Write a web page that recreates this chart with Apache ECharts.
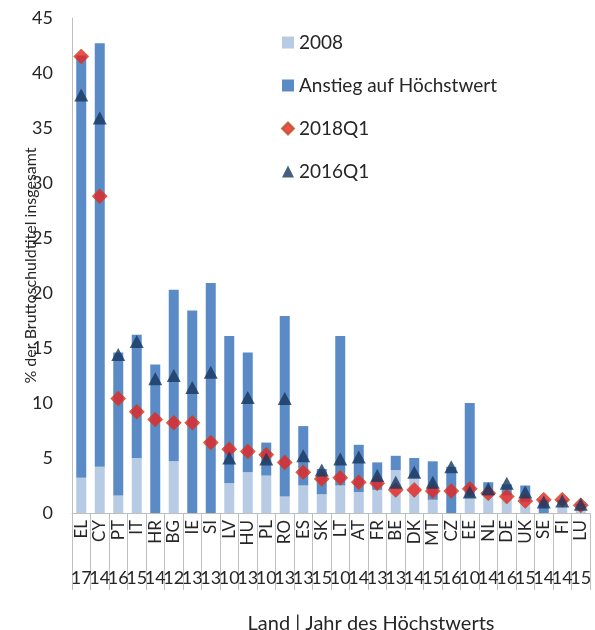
<!DOCTYPE html>
<html>
<head>
<meta charset="utf-8">
<script src="https://cdn.jsdelivr.net/npm/echarts@6/dist/echarts.min.js"></script>
<style>
html,body{margin:0;padding:0;background:#fff;}
#chart{width:595px;height:630px;}
</style>
</head>
<body>
<div id="chart"></div>
<script>
const countries = ['EL','CY','PT','IT','HR','BG','IE','SI','LV','HU','PL','RO','ES','SK','LT','AT','FR','BE','DK','MT','CZ','EE','NL','DE','UK','SE','FI','LU'];
const peakYears = ['17','14','16','15','14','12','13','13','10','13','10','13','13','15','10','14','13','13','14','15','16','10','14','16','15','14','14','15'];
const base2008 = [3.2,4.2,1.6,5.0,0,4.7,0,0,2.7,3.7,3.4,1.5,2.5,1.7,2.5,1.9,2.1,3.9,3.2,1.2,0,1.4,1.5,1.6,1.0,0,1.0,0.7];
const increaseToPeak = [38.4,38.5,13.0,11.2,13.5,15.6,18.4,20.9,13.4,10.9,3.0,16.4,5.4,2.3,13.6,4.3,2.5,1.3,1.8,3.5,4.2,8.6,1.3,1.0,1.5,1.2,0.2,0.1];
const q2018 = [41.5,28.8,10.4,9.2,8.5,8.2,8.2,6.4,5.8,5.6,5.3,4.6,3.7,3.1,3.2,2.8,2.7,2.1,2.1,2.0,2.0,2.2,1.8,1.5,1.1,1.2,1.2,0.7];
const q2016 = [38.0,35.9,14.4,15.6,12.2,12.5,11.4,12.8,5.0,10.5,4.9,10.4,5.2,3.9,4.9,5.1,3.4,2.8,3.7,2.8,4.2,1.9,2.2,2.7,1.9,1.0,1.1,0.8];

const FONT = 'Lato';
const TXT = '#262626';
const chart = echarts.init(document.getElementById('chart'), null, {renderer:'canvas'});
chart.setOption({
  animation:false,
  textStyle:{fontFamily:FONT, color:TXT},
  title:{text:'Land | Jahr des Höchstwerts', left:366, top:609, textAlign:'center',
    textStyle:{fontFamily:FONT, fontSize:20, fontWeight:'normal', color:TXT}},
  legend:{
    orient:'vertical', left:276, top:28, itemGap:24, itemWidth:12, itemHeight:12,
    textStyle:{fontFamily:FONT, fontSize:19, color:TXT},
    data:[
      {name:'2008', icon:'rect'},
      {name:'Anstieg auf Höchstwert', icon:'rect'},
      {name:'2018Q1', icon:'diamond'},
      {name:'2016Q1', icon:'triangle'}
    ]
  },
  grid:{left:72, right:5, top:18, bottom:117},
  xAxis:[
    {type:'category', data:countries, position:'bottom',
     axisLine:{lineStyle:{color:'#bfbfbf', width:1}},
     axisTick:{show:true, length:77, interval:0, lineStyle:{color:'#bfbfbf'}},
     axisLabel:{rotate:90, interval:0, margin:7, fontSize:17, color:TXT, fontFamily:FONT}},
    {type:'category', data:peakYears, position:'bottom',
     axisLine:{show:false}, axisTick:{show:false},
     axisLabel:{interval:0, margin:56, fontSize:18, color:TXT, fontFamily:FONT}}
  ],
  yAxis:{type:'value', min:0, max:45, interval:5,
    name:'% der Bruttoschuldtitel insgesamt', nameLocation:'middle', nameGap:33,
    nameMoveOverlap:false,
    nameTextStyle:{fontSize:16, color:TXT, fontFamily:FONT},
    axisLine:{show:true, lineStyle:{color:'#bfbfbf'}},
    axisTick:{show:false}, splitLine:{show:false},
    axisLabel:{margin:19, fontSize:18, color:TXT, fontFamily:FONT}},
  series:[
    {name:'2008', type:'bar', stack:'s', data:base2008, barWidth:10,
     itemStyle:{color:'#b7cbe5'}},
    {name:'Anstieg auf Höchstwert', type:'bar', stack:'s', data:increaseToPeak, barWidth:10,
     itemStyle:{color:'#5b8bc7'}},
    {name:'2018Q1', type:'scatter', data:q2018, symbol:'diamond', symbolSize:15, z:3,
     itemStyle:{color:'#e8231f', borderColor:'#b5561f', borderWidth:0.8}},
    {name:'2016Q1', type:'scatter', data:q2016, symbol:'triangle', symbolSize:[14,13], z:4,
     itemStyle:{color:'#17375e'}}
  ]
});
</script>
</body>
</html>
